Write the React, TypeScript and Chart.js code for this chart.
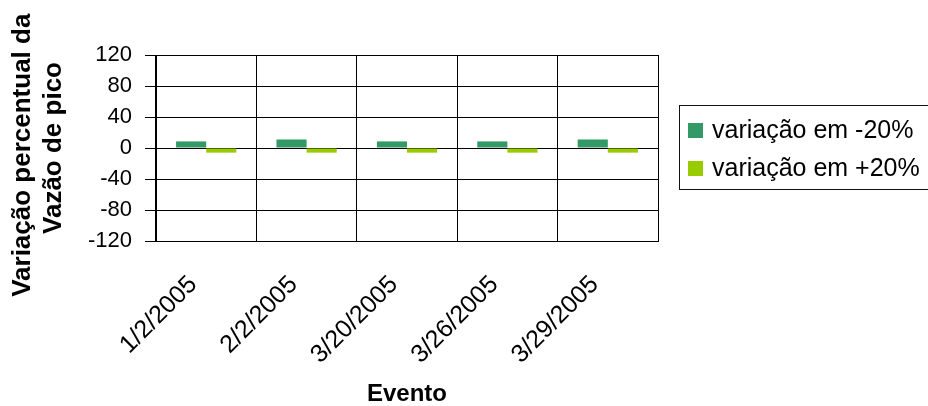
import { useEffect, useRef } from "react";
import { Chart, registerables } from "chart.js";

Chart.register(...registerables);

// Eventos (categorias do eixo X)
const eventos = ["1/2/2005", "2/2/2005", "3/20/2005", "3/26/2005", "3/29/2005"];
// Variação percentual da vazão de pico para cada cenário
const variacaoMenos20 = [8.5, 11, 8.5, 8.5, 11];
const variacaoMais20 = [-6, -6, -6, -6, -6];
const nomesSeries = ["variação em -20%", "variação em +20%"];
const coresSeries = ["#339966", "#99CC00"];
// Marcas do eixo Y
const ticksY = [-120, -80, -40, 0, 40, 80, 120];
const tituloY = ["Variação percentual da  ", "Vazão de pico"];
const tituloX = "Evento";

const FONTE = "'Liberation Sans', Arial, sans-serif";

// Legenda em caixa à direita da área de plotagem
const legendaLateral = {
  id: "legendaLateral",
  afterDraw(chart: any) {
    const { ctx } = chart;
    ctx.save();
    ctx.strokeStyle = "#111";
    ctx.lineWidth = 1;
    ctx.strokeRect(679.5, 105.5, 262, 84);
    ctx.font = `25px ${FONTE}`;
    ctx.textBaseline = "middle";
    ctx.textAlign = "left";
    chart.data.datasets.forEach((ds: any, i: number) => {
      const cy = 130.5 + i * 38;
      ctx.fillStyle = ds.backgroundColor;
      ctx.fillRect(688, Math.round(cy - 7.5), 15, 15);
      ctx.fillStyle = "#000";
      ctx.fillText(ds.label, 712, cy + 1);
    });
    ctx.restore();
  },
};

export default function App() {
  const canvasRef = useRef<HTMLCanvasElement | null>(null);

  useEffect(() => {
    document.body.style.margin = "0";
    const canvas = canvasRef.current;
    if (!canvas) return;

    const chart = new Chart(canvas, {
      type: "bar",
      data: {
        labels: eventos,
        datasets: [
          {
            label: nomesSeries[0],
            data: variacaoMenos20,
            backgroundColor: coresSeries[0],
            categoryPercentage: 0.6,
            barPercentage: 1,
          },
          {
            label: nomesSeries[1],
            data: variacaoMais20,
            backgroundColor: coresSeries[1],
            categoryPercentage: 0.6,
            barPercentage: 1,
          },
        ],
      },
      options: {
        responsive: false,
        animation: false,
        devicePixelRatio: 1,
        layout: { padding: { top: 55, right: 270, left: 0, bottom: 0 } },
        plugins: {
          legend: { display: false },
          tooltip: { enabled: false },
        },
        scales: {
          x: {
            afterFit: (s: any) => {
              s.height = 165;
            },
            grid: {
              color: "#000",
              lineWidth: 1,
              offset: true,
              drawTicks: false,
            },
            border: { display: true, color: "#000", width: 1 },
            ticks: {
              color: "#000",
              font: { family: FONTE, size: 25 },
              minRotation: 45,
              maxRotation: 45,
              autoSkip: false,
              padding: 29,
              labelOffset: -13,
            },
            title: {
              display: true,
              text: tituloX,
              color: "#000",
              font: { family: FONTE, size: 24, weight: "bold", lineHeight: 1 },
              padding: { top: 0, bottom: 0 },
            },
          },
          y: {
            min: -120,
            max: 120,
            afterFit: (s: any) => {
              s.width = 156;
            },
            afterBuildTicks: (s: any) => {
              s.ticks = ticksY.map((v) => ({ value: v }));
            },
            grid: {
              color: "#000",
              lineWidth: 1,
              drawTicks: true,
              tickLength: 11,
            },
            border: { display: true, color: "#000", width: 1 },
            ticks: {
              color: "#000",
              font: { family: FONTE, size: 22 },
              padding: 13,
            },
            title: {
              display: true,
              text: tituloY,
              color: "#000",
              font: { family: FONTE, size: 26, weight: "bold", lineHeight: 1.2 },
              padding: { top: 7, bottom: 0 },
            },
          },
        },
      },
      plugins: [legendaLateral],
    });

    return () => chart.destroy();
  }, []);

  return (
    <div>
      <canvas ref={canvasRef} width={928} height={406} style={{ display: "block" }} />
    </div>
  );
}
